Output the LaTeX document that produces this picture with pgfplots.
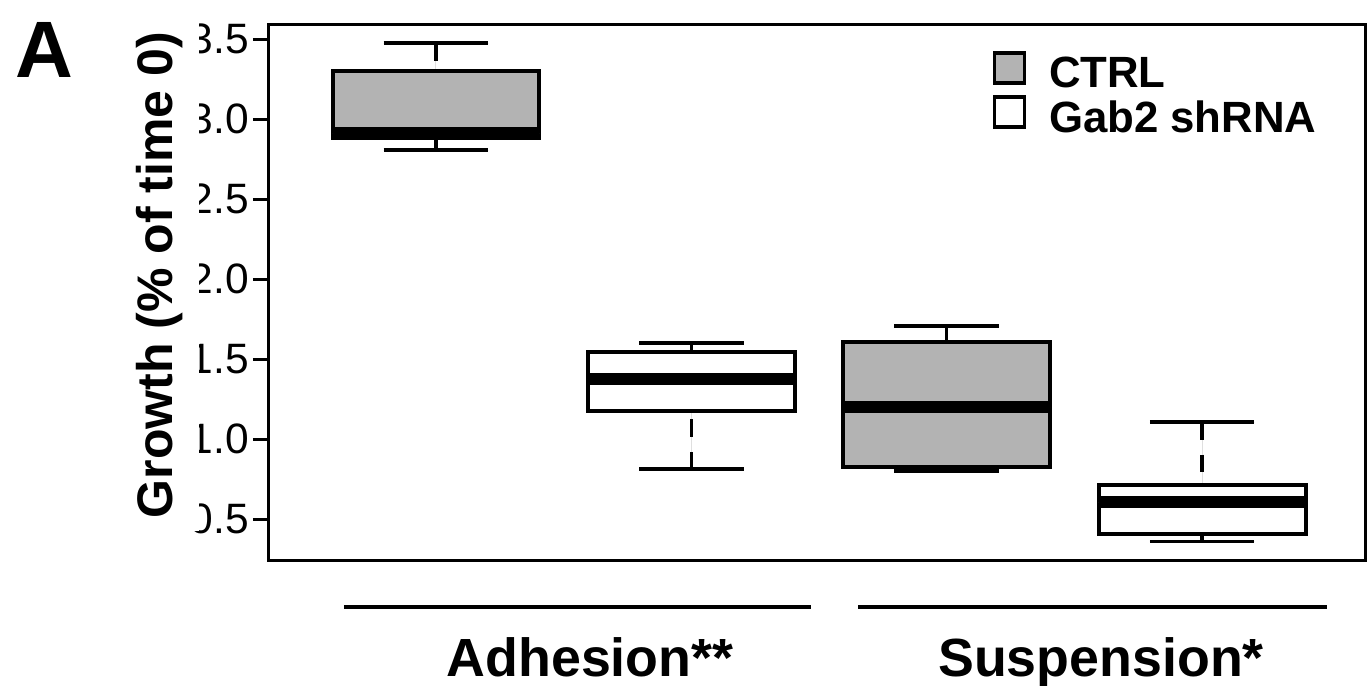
\documentclass[border=0pt]{standalone}
\usepackage{pgfplots}
\pgfplotsset{compat=1.18}
\usepgfplotslibrary{statistics}
\usepackage{fontspec}
\setmainfont{Liberation Sans}
\definecolor{ctrlgray}{HTML}{B3B3B3}
\begin{document}
\begin{tikzpicture}
\begin{axis}[
  scale only axis,
  width=438.4pt, height=214.4pt,
  xmin=0.346, xmax=4.638,
  ymin=0.244, ymax=3.594,
  xtick=\empty,
  ytick={0.5,1.0,1.5,2.0,2.5,3.0,3.5},
  ytick pos=left,
  tick align=outside,
  major tick length=6.4pt,
  every tick/.style={black, line width=1.2pt},
  axis line style={line width=1.2pt},
  /pgf/number format/assume math mode=true,
  yticklabel style={font=\fontsize{17}{17}\selectfont, inner sep=1.5pt,
     /pgf/number format/fixed, /pgf/number format/fixed zerofill,
     /pgf/number format/precision=1},
  ylabel={Growth (\% of time 0)},
  ylabel style={at={(axis description cs:-0.063,0.5317)}, anchor=south,
     fill=white, inner xsep=5pt, inner ysep=6.5pt,
     font=\bfseries\fontsize{20}{20}\selectfont},
  clip=false,
  boxplot/draw direction=y,
  boxplot/box extend=0.81,
  boxplot/whisker extend=0.41,
  boxplot/every box/.style={draw=black, line width=1.6pt},
  boxplot/every median/.style={draw=black, line width=4.8pt},
  boxplot/draw/lower whisker/.code={%
    \draw[black, line width=1.3pt, dash pattern=on 7pt off 6pt]
      (boxplot box cs:\pgfplotsboxplotvalue{lower whisker},0.5) --
      (boxplot box cs:\pgfplotsboxplotvalue{lower quartile},0.5);
    \draw[black, line width=1.3pt]
      (boxplot whisker cs:\pgfplotsboxplotvalue{lower whisker},0) --
      (boxplot whisker cs:\pgfplotsboxplotvalue{lower whisker},1);
  },
  boxplot/draw/upper whisker/.code={%
    \draw[black, line width=1.3pt, dash pattern=on 7pt off 6pt]
      (boxplot box cs:\pgfplotsboxplotvalue{upper whisker},0.5) --
      (boxplot box cs:\pgfplotsboxplotvalue{upper quartile},0.5);
    \draw[black, line width=1.3pt]
      (boxplot whisker cs:\pgfplotsboxplotvalue{upper whisker},0) --
      (boxplot whisker cs:\pgfplotsboxplotvalue{upper whisker},1);
  },
  legend image code/.code={\draw[#1] (0pt,-3pt) rectangle (12pt,9pt);},
  legend style={at={(axis description cs:0.6597,0.9505)}, anchor=north west,
     draw=none, fill=none, inner sep=0pt, row sep=0pt, column sep=9.2pt,
     font=\bfseries\fontsize{17.5}{17.5}\selectfont,
     nodes={inner sep=0pt, text height=13pt, text depth=3pt}},
  legend cell align=left,
]
% CTRL Adhesion
\addplot[forget plot, draw=black, fill=ctrlgray, boxplot prepared={draw position=1,
  lower whisker=2.806, lower quartile=2.88, median=2.91,
  upper quartile=3.303, upper whisker=3.475}] coordinates {};
% Gab2 shRNA Adhesion
\addplot[forget plot, draw=black, fill=white, boxplot prepared={draw position=2,
  lower whisker=0.8125, lower quartile=1.175, median=1.375,
  upper quartile=1.544, upper whisker=1.60}] coordinates {};
% CTRL Suspension
\addplot[forget plot, draw=black, fill=ctrlgray, boxplot prepared={draw position=3,
  lower whisker=0.80, lower quartile=0.825, median=1.20,
  upper quartile=1.606, upper whisker=1.706}] coordinates {};
% Gab2 shRNA Suspension
\addplot[forget plot, draw=black, fill=white, boxplot prepared={draw position=4,
  lower whisker=0.36, lower quartile=0.406, median=0.606,
  upper quartile=0.71, upper whisker=1.106}] coordinates {};

\addlegendimage{draw=black, fill=ctrlgray, line width=1.4pt}
\addlegendentry{CTRL}
\addlegendimage{draw=black, fill=white, line width=1.4pt}
\addlegendentry{Gab2 shRNA}

\draw[line width=1.6pt] (axis description cs:0.0684,-0.0877) -- (axis description cs:0.4945,-0.0877);
\draw[line width=1.6pt] (axis description cs:0.5374,-0.0877) -- (axis description cs:0.9653,-0.0877);
\node[anchor=base, inner sep=0pt, font=\bfseries\fontsize{21.5}{21.5}\selectfont]
  at (axis description cs:0.2929,-0.2164) {Adhesion**};
\node[anchor=base, inner sep=0pt, font=\bfseries\fontsize{21.5}{21.5}\selectfont]
  at (axis description cs:0.7591,-0.2164) {Suspension*};
\node[anchor=base west, inner sep=0pt, font=\bfseries\fontsize{32}{32}\selectfont]
  at (axis description cs:-0.2318,0.901) {A};
\coordinate (bbA) at (axis description cs:-0.2454,-0.2332);
\coordinate (bbB) at (axis description cs:1.0027,1.0448);
\end{axis}
\pgfresetboundingbox
\path (bbA) rectangle (bbB);
\end{tikzpicture}
\end{document}
